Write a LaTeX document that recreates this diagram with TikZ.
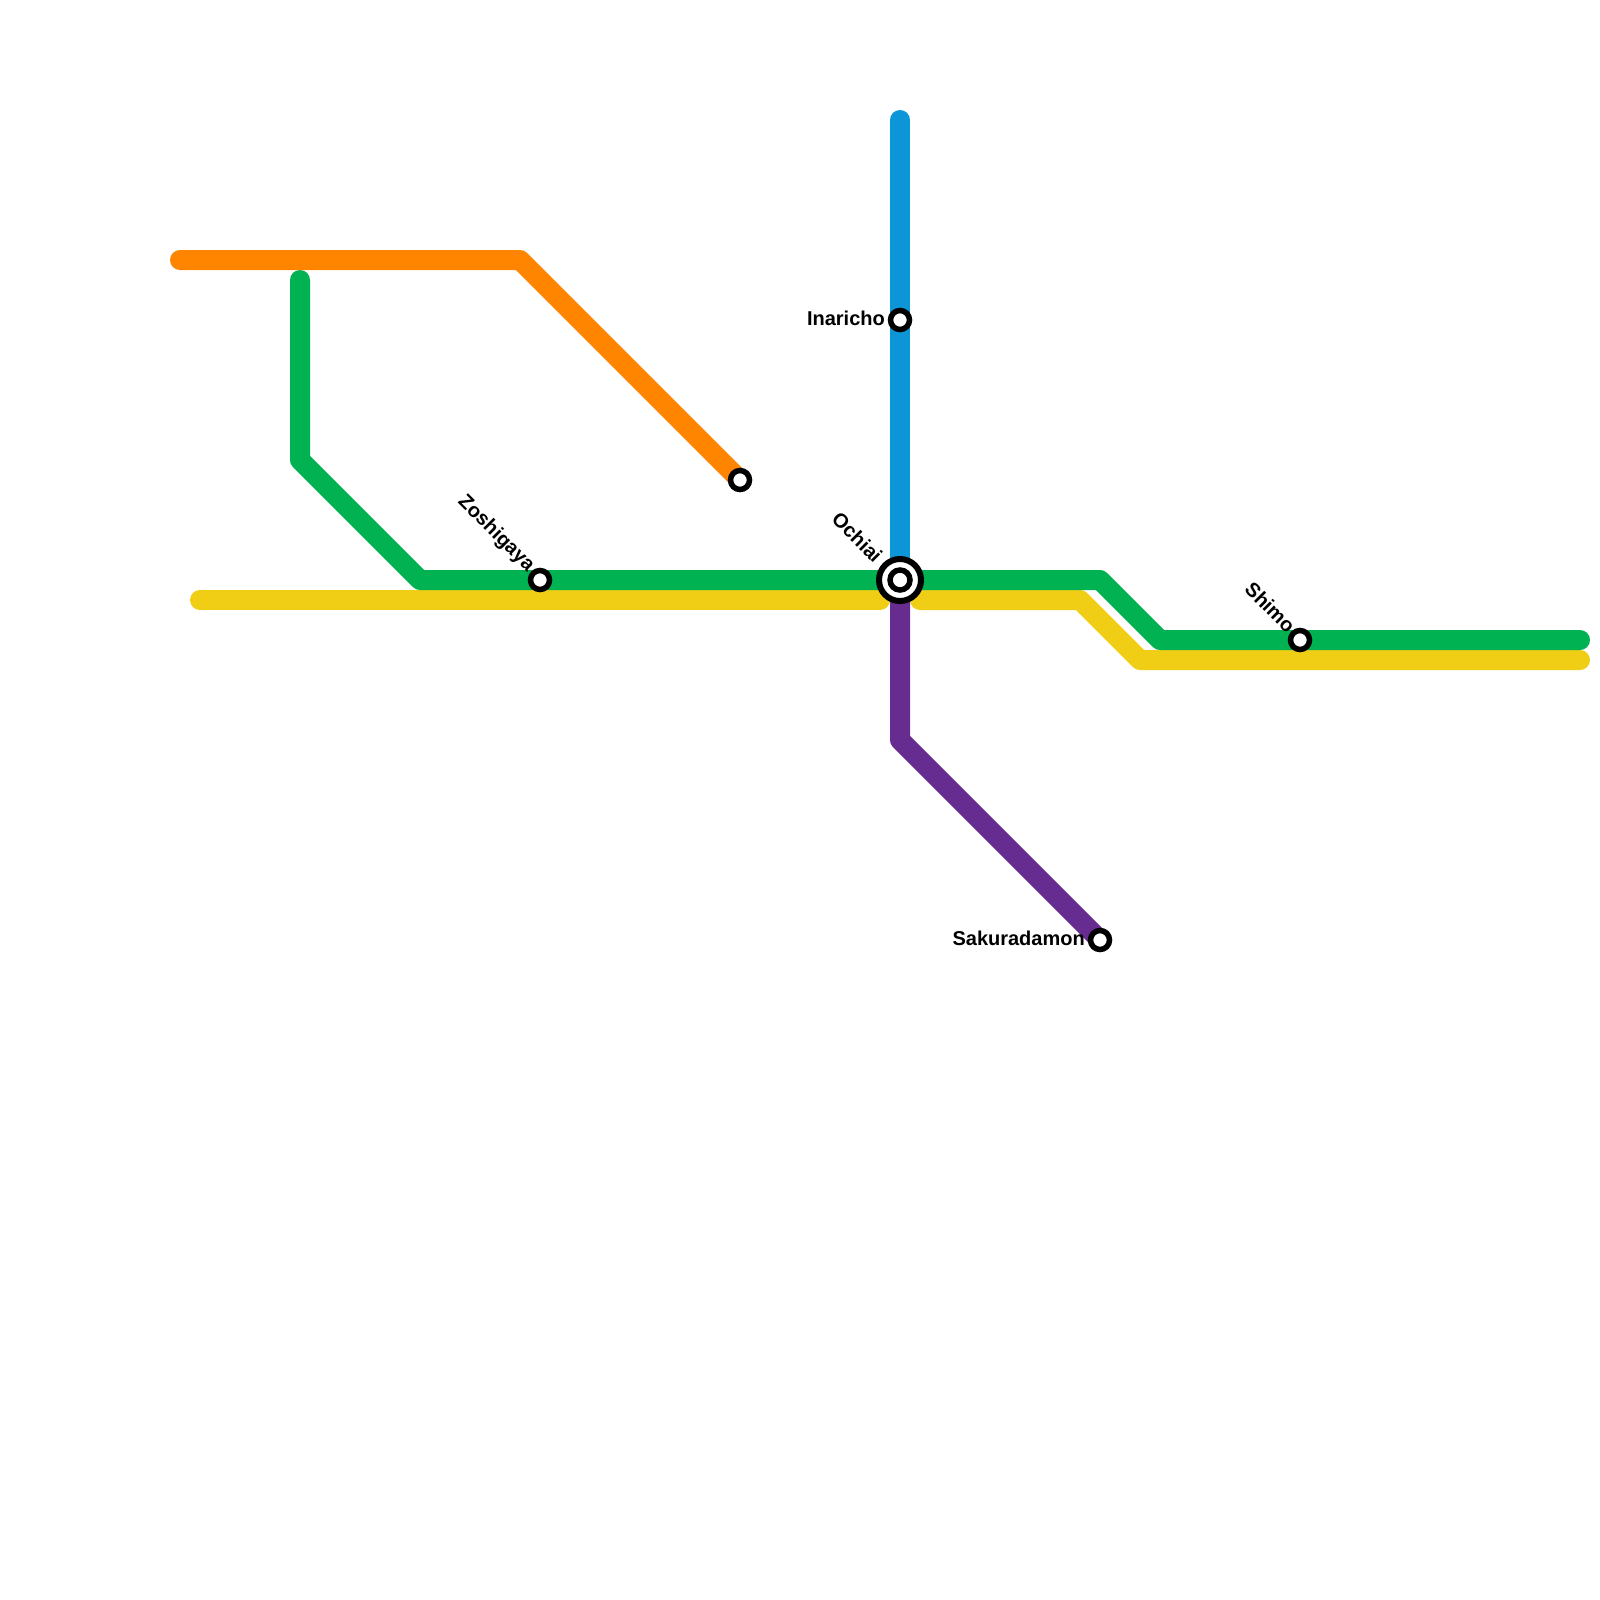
\documentclass[tikz,border=0pt]{standalone}
\usepackage{fontspec}
\setmainfont{Liberation Sans}
\definecolor{lblue}{HTML}{0C96D8}
\definecolor{lorange}{HTML}{FF8400}
\definecolor{lgreen}{HTML}{00B251}
\definecolor{lyellow}{HTML}{F0CE15}
\definecolor{lpurple}{HTML}{662C90}
\tikzset{
  metro/.style={line width=20pt,line cap=round,line join=round},
  stn/.style={circle,draw=black,fill=white,line width=5.5pt,minimum size=19pt,inner sep=0pt},
  hubout/.style={circle,draw=black,fill=white,line width=6pt,minimum size=42pt,inner sep=0pt},
  lab/.style={font=\bfseries\fontsize{20}{22}\selectfont,text=black,inner sep=0pt,anchor=east},
  dlab/.style={lab,rotate=-45}
}
\begin{document}
\begin{tikzpicture}[x=1pt,y=-1pt]
\useasboundingbox (0,0) rectangle (1600,1600);
% stations
\coordinate (Och) at (900,580);
\coordinate (Ina) at (900,320);
\coordinate (Zos) at (540,580);
\coordinate (Orng) at (740,480);
\coordinate (Sak) at (1100,940);
\coordinate (Shi) at (1300,640);
% way points
\coordinate (bT) at (900,120);
\coordinate (oA) at (180,260);
\coordinate (oB) at (520,260);
\coordinate (gA) at (300,280);
\coordinate (gB) at (300,460);
\coordinate (gC) at (420,580);
\coordinate (gD) at (1100,580);
\coordinate (gE) at (1160,640);
\coordinate (gF) at (1580,640);
\coordinate (yA) at (200,600);
\coordinate (yB) at (880,600);
\coordinate (yC) at (920,600);
\coordinate (yD) at (1080,600);
\coordinate (yE) at (1140,660);
\coordinate (yF) at (1580,660);
\coordinate (pA) at (900,740);
% lines
\draw[metro,lyellow] (yA) -- (yB);
\draw[metro,lyellow] (yC) -- (yD) -- (yE) -- (yF);
\draw[metro,lgreen] (gA) -- (gB) -- (gC) -- (gD) -- (gE) -- (gF);
\draw[metro,lorange] (oA) -- (oB) -- (Orng);
\draw[metro,lblue] (bT) -- (Och);
\draw[metro,lpurple] (Och) -- (pA) -- (Sak);
% station markers
\node[stn] (nIna) at (Ina) {};
\node[stn] (nZos) at (Zos) {};
\node[stn] (nOrng) at (Orng) {};
\node[stn] (nSak) at (Sak) {};
\node[stn] (nShi) at (Shi) {};
\node[hubout] (nOchO) at (Och) {};
\node[stn,minimum size=20pt] (nOch) at (Och) {};
% labels
\node[lab] (tIna) at (885,318) {Inaricho};
\node[lab] (tSak) at (1085,938) {Sakuradamon};
\node[dlab] (tOch) at (879,559) {Ochiai};
\node[dlab] (tZos) at (531,569) {Zoshigaya};
\node[dlab] (tShi) at (1292,629) {Shimo};
\end{tikzpicture}
\end{document}
